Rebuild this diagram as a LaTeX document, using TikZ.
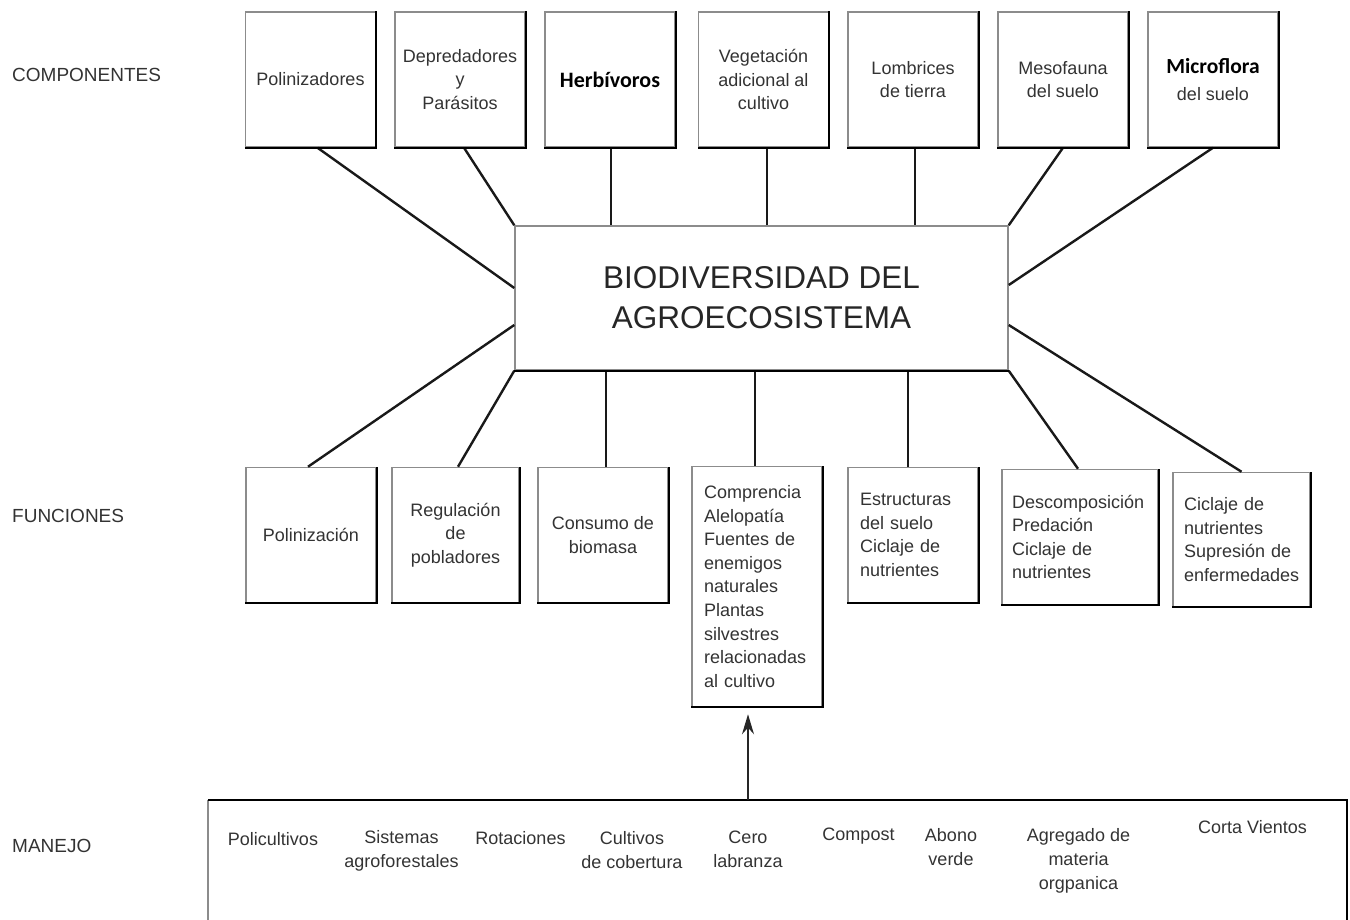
\documentclass[tikz,border=0pt]{standalone}
\usepackage{fontspec}
\setmainfont{Liberation Sans}
\newfontfamily\calfont{Carlito}
\usetikzlibrary{positioning, arrows.meta}
\hyphenpenalty=10000

\tikzset{
  box/.style = {rectangle, draw=black!45, line width=1.5pt, fill=white, minimum width=130pt, minimum height=135pt, align=center, text=black!80, font=\fontsize{18}{23.6}\selectfont, inner sep=0pt},
  textbox/.style = {box, align=left, text width=#1, inner xsep=12pt},
  link/.style = {line width=2.4pt, black!90},
  edge/.style = {line width=2.4pt, black},
  arrow/.style = {line width=1.4pt, black!85, -{Stealth[length=20pt,width=12pt]}},
  rowlabel/.style = {anchor=west, text=black!80, font=\fontsize{19}{22}\selectfont, inner sep=0pt},
  item/.style = {anchor=north, align=center, text=black!80, font=\fontsize{18}{24}\selectfont, inner sep=0pt}
}

\begin{document}
\begin{tikzpicture}[x=1pt, y=-1pt, node distance=150pt]
\useasboundingbox (0,0) rectangle (1350,920);

% row labels
\node (lcomp) [rowlabel] at (12,75) {COMPONENTES};
\node (lfunc) [rowlabel] at (12,516) {FUNCIONES};
\node (lman) [rowlabel] at (12,846) {MANEJO};

% componentes
\node (comp1) [box] at (310.5,79.5) {Polinizadores};
\node (comp2) [box, right of=comp1, xshift=-0.5pt] {Depredadores\\y\\Parásitos};
\node (comp3) [box, right of=comp2] {\calfont\bfseries\fontsize{22}{26}\selectfont\color{black}Herbívoros};
\node (comp4) [box, right of=comp3, xshift=3.5pt] {Vegetación\\adicional al\\cultivo};
\node (comp5) [box, right of=comp4, xshift=-0.5pt] {Lombrices\\de tierra};
\node (comp6) [box, right of=comp5] {Mesofauna\\del suelo};
\node (comp7) [box, right of=comp6] {{\calfont\bfseries\fontsize{21.5}{24}\selectfont\color{black}Microflora}\\[4pt]del suelo};

% centro
\node (bio) [box, minimum width=493pt, minimum height=144pt, font=\fontsize{31.5}{40}\selectfont, text=black!85] at (761.5,298) {BIODIVERSIDAD DEL\\AGROECOSISTEMA};

% funciones
\node (func1) [box] at (311,535) {Polinización};
\node (func2) [box, right of=func1, xshift=-5.5pt, minimum width=127pt] {Regulación\\de\\pobladores};
\node (func3) [box, right of=func2, xshift=-2.5pt] {Consumo de\\biomasa};
\node (func4) [textbox=106pt, right of=func3, xshift=4pt, yshift=-51.5pt, minimum height=240pt] {Comprencia\\Alelopatía\\Fuentes de\\enemigos\\naturales\\Plantas\\silvestres\\relacionadas\\al cultivo};
\node (func5) [textbox=106pt, right of=func4, xshift=6pt, yshift=51.5pt] {Estructuras\\del suelo\\Ciclaje de\\nutrientes};
\node (func6) [textbox=136pt, right of=func5, xshift=17pt, yshift=-2pt, inner xsep=10pt] {Descomposición\\Predación\\Ciclaje de\\nutrientes};
\node (func7) [textbox=115pt, right of=func6, xshift=11.5pt, yshift=-2.5pt, inner xsep=11pt, minimum height=134pt] {Ciclaje de\\nutrientes\\Supresión de\\enfermedades};

% manejo
\node (manejo) [minimum width=1139pt, minimum height=120pt, inner sep=0pt] at (777.5,860) {};
\node (man1) [item] at (273,832) {Policultivos};
\node (man2) [item] at (401.5,830) {Sistemas\\agroforestales};
\node (man3) [item] at (520.5,831) {Rotaciones};
\node (man4) [item] at (632,831) {Cultivos\\de cobertura};
\node (man5) [item] at (748,831) {Cero\\labranza};
\node (man6) [item] at (858.5,828) {Compost};
\node (man7) [item] at (951,828) {Abono\\verde};
\node (man8) [item] at (1078.5,828) {Agregado de\\materia\\orgpanica};
\node (man9) [item] at (1252.5,820) {Corta Vientos};

% connectors top
\draw [link] ([xshift=7pt]comp1.south) -- ([yshift=10pt]bio.west);
\draw [link] ([xshift=4pt]comp2.south) -- (bio.north west);
\draw [link] ([xshift=1pt]comp3.south) -- ([xshift=1pt]comp3.south |- bio.north);
\draw [link] ([xshift=3.5pt]comp4.south) -- ([xshift=3.5pt]comp4.south |- bio.north);
\draw [link] ([xshift=2pt]comp5.south) -- ([xshift=2pt]comp5.south |- bio.north);
\draw [link] (comp6.south) -- (bio.north east);
\draw [link] (comp7.south) -- ([yshift=13pt]bio.east);

% connectors bottom
\draw [link] ([yshift=-27pt]bio.west) -- ([xshift=-3pt]func1.north);
\draw [link] (bio.south west) -- ([xshift=2.5pt]func2.north);
\draw [link] ([xshift=3pt]func3.north |- bio.south) -- ([xshift=3pt]func3.north);
\draw [link] ([xshift=-2pt]func4.north |- bio.south) -- ([xshift=-2pt]func4.north);
\draw [link] ([xshift=-5pt]func5.north |- bio.south) -- ([xshift=-5pt]func5.north);
\draw [link] (bio.south east) -- ([xshift=-2pt]func6.north);
\draw [link] ([yshift=-27pt]bio.east) -- (func7.north);

% shadow edges
\foreach \i in {1,...,7} {
  \draw [edge] (comp\i.south west) -- (comp\i.south east) -- (comp\i.north east);
  \draw [edge] (func\i.south west) -- (func\i.south east) -- (func\i.north east);
}
\draw [edge] (bio.south west) -- (bio.south east);

% manejo frame
\draw [line width=1.5pt, black!45] (manejo.south west) -- (manejo.north west);
\draw [edge] (manejo.north west) -- (manejo.north east) -- (manejo.south east);
\draw [arrow] ([xshift=-9pt]func4.south |- manejo.north) -- ([xshift=-9pt, yshift=-7pt]func4.south);
\end{tikzpicture}
\end{document}
